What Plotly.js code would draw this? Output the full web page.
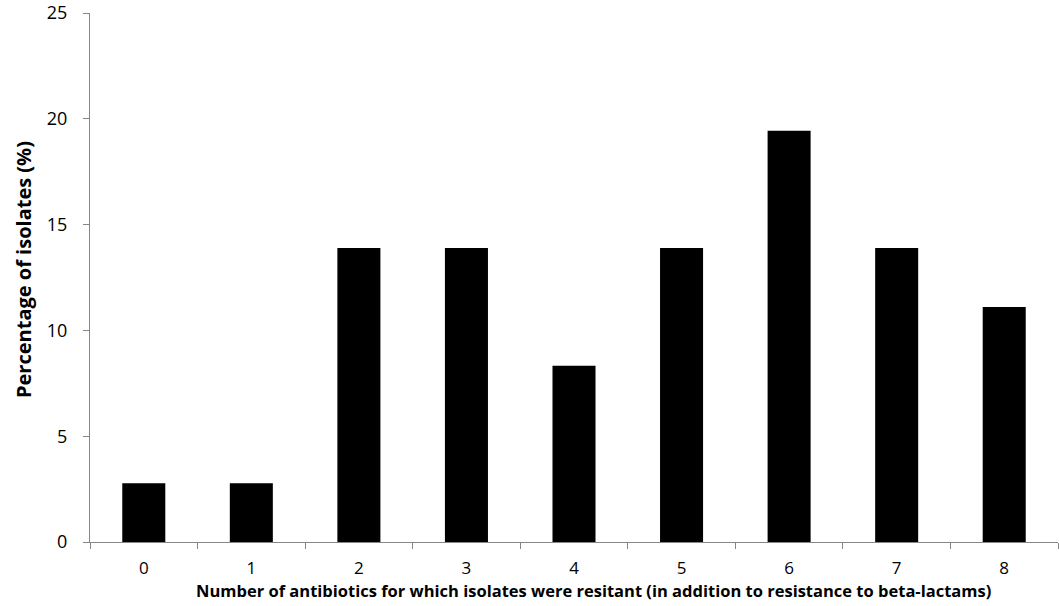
<!DOCTYPE html>
<html>
<head>
<meta charset="utf-8">
<script src="https://cdn.plot.ly/plotly-3.0.1.min.js"></script>
<style>html,body{margin:0;padding:0;background:#fff;}#chart{width:1059px;height:606px;}</style>
</head>
<body>
<div id="chart"></div>
<script>
var categories = ["0", "1", "2", "3", "4", "5", "6", "7", "8"];
var percentages = [2.78, 2.78, 13.89, 13.89, 8.33, 13.89, 19.44, 13.89, 11.11];
var yTicks = [0, 5, 10, 15, 20, 25];
var xTitle = "Number of antibiotics for which isolates were resitant (in addition to resistance to beta-lactams)";
var yTitle = "Percentage of isolates (%)";

var trace = {
  type: "bar",
  x: categories,
  y: percentages,
  marker: {color: "#000000"},
  hoverinfo: "x+y"
};

var layout = {
  width: 1059,
  height: 606,
  margin: {l: 90, r: 1, t: 13, b: 64, pad: 0},
  paper_bgcolor: "#ffffff",
  plot_bgcolor: "#ffffff",
  bargap: 0.6,
  showlegend: false,
  font: {family: "Open Sans, sans-serif", color: "#000000"},
  xaxis: {
    type: "category",
    showline: true,
    linecolor: "#868686",
    linewidth: 1,
    ticks: "outside",
    tickson: "boundaries",
    ticklen: 6,
    tickcolor: "#868686",
    showgrid: false,
    zeroline: false,
    ticklabelstandoff: 11,
    tickfont: {size: 17, family: "Open Sans, sans-serif"}
  },
  yaxis: {
    range: [0, 25],
    tickvals: yTicks,
    showline: true,
    linecolor: "#868686",
    linewidth: 1,
    ticks: "outside",
    ticklen: 6,
    tickcolor: "#868686",
    showgrid: false,
    zeroline: false,
    ticklabeloverflow: "allow",
    ticklabelstandoff: 12,
    tickfont: {size: 18, family: "Open Sans, sans-serif"}
  },
  annotations: [
    {text: "<b>" + xTitle + "</b>", xref: "paper", yref: "paper",
     x: (593 - 90) / 968, y: -(590 - 542) / 529, xanchor: "center", yanchor: "middle",
     showarrow: false, font: {size: 16.5, family: "Open Sans, sans-serif", color: "#000000"}},
    {text: "<b>" + yTitle + "</b>", xref: "paper", yref: "paper", textangle: -90,
     x: (23 - 90) / 968, y: (542 - 270) / 529, xanchor: "center", yanchor: "middle",
     showarrow: false, font: {size: 20, family: "Open Sans, sans-serif", color: "#000000"}}
  ]
};

Plotly.newPlot("chart", [trace], layout, {displayModeBar: false, staticPlot: true});
</script>
</body>
</html>
